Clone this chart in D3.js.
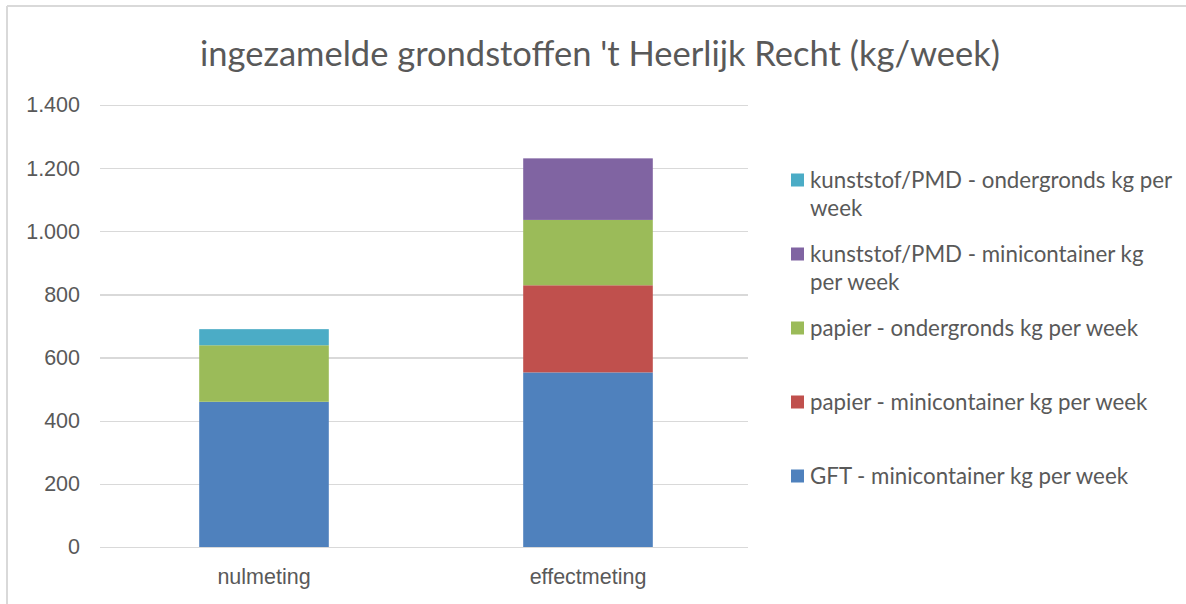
<!DOCTYPE html>
<head>
    <meta charset="utf-8">
    <style>
        body { margin: 0; background: #fff; }
        svg { display: block; font-family: Lato, 'Noto Sans', sans-serif; }
        .title { font-size: 34.5px; fill: #595959; }
        .axis text { font-size: 21.5px; fill: #595959; }
        .axis .domain { display: none; }
        .axis line { display: none; }
        .grid line { stroke: #d9d9d9; stroke-width: 1.3px; shape-rendering: crispEdges; }
        .grid .domain { display: none; }
        .legend text { font-size: 22.3px; fill: #595959; }
    </style>
</head>
<body>
    <div id="chart"></div>
    <script src="https://d3js.org/d3.v7.min.js"></script>
    <script>
        // categories and series, bottom of the stack first
        var categories = ["nulmeting", "effectmeting"];
        var seriesNames = [
            "GFT - minicontainer kg per week",
            "papier - minicontainer kg per week",
            "papier - ondergronds kg per week",
            "kunststof/PMD - minicontainer kg per week",
            "kunststof/PMD - ondergronds kg per week"
        ];
        // legend text as wrapped in the original
        var legendLines = [
            ["GFT - minicontainer kg per week"],
            ["papier - minicontainer kg per week"],
            ["papier - ondergronds kg per week"],
            ["kunststof/PMD - minicontainer kg", "per week"],
            ["kunststof/PMD - ondergronds kg per", "week"]
        ];
        var gft = [460, 553];
        var papierMini = [0, 276];
        var papierOnder = [179, 207];
        var pmdMini = [0, 195];
        var pmdOnder = [51, 0];
        var colors = ["#4f81bd", "#c0504d", "#9bbb59", "#8064a2", "#4bacc6"];
        var yTicks = [0, 200, 400, 600, 800, 1000, 1200, 1400];

        var W = 1186, H = 604;
        var margin = {top: 105, left: 100, right: 438, bottom: 57};
        var width = W - margin.left - margin.right,
            height = H - margin.top - margin.bottom;

        var svg = d3.select("#chart").append("svg")
            .attr("width", W)
            .attr("height", H);

        // chart area border (only top and left show in the picture)
        svg.append("line").attr("x1", 7).attr("x2", W).attr("y1", 6).attr("y2", 6)
            .attr("stroke", "#d9d9d9").attr("stroke-width", 2);
        svg.append("line").attr("x1", 7).attr("x2", 7).attr("y1", 6).attr("y2", H)
            .attr("stroke", "#d9d9d9").attr("stroke-width", 2);

        svg.append("text")
            .attr("class", "title")
            .attr("x", 600)
            .attr("y", 66)
            .attr("text-anchor", "middle")
            .text("ingezamelde grondstoffen 't Heerlijk Recht (kg/week)");

        var g = svg.append("g").attr("transform", "translate(" + margin.left + "," + margin.top + ")");

        var x = d3.scaleBand()
            .domain(categories)
            .range([2, width + 2])
            .paddingInner(0.6)
            .paddingOuter(0.3);

        var y = d3.scaleLinear()
            .domain([0, 1400])
            .range([height, 0]);

        g.append("g")
            .attr("class", "grid")
            .call(d3.axisLeft(y).tickValues(yTicks).tickSize(-width).tickFormat(""));

        var table = categories.map(function(c, i) {
            return {cat: c, s0: gft[i], s1: papierMini[i], s2: papierOnder[i], s3: pmdMini[i], s4: pmdOnder[i]};
        });
        var keys = ["s0", "s1", "s2", "s3", "s4"];
        var stacked = d3.stack().keys(keys)(table);

        g.append("g").selectAll("g")
            .data(stacked)
            .enter().append("g")
            .attr("fill", function(d, i) { return colors[i]; })
            .selectAll("rect")
            .data(function(d) { return d; })
            .enter().append("rect")
            .attr("x", function(d) { return x(d.data.cat); })
            .attr("y", function(d) { return y(d[1]); })
            .attr("width", x.bandwidth())
            .attr("height", function(d) { return y(d[0]) - y(d[1]); });

        var fmt = function(v) { return d3.format(",")(v).replace(/,/g, "."); };

        g.append("g")
            .attr("class", "axis")
            .call(d3.axisLeft(y).tickValues(yTicks).tickSize(0).tickPadding(20).tickFormat(fmt));

        g.append("g")
            .attr("class", "axis")
            .attr("transform", "translate(0," + height + ")")
            .call(d3.axisBottom(x).tickSize(0).tickPadding(22));

        // legend, top entry is the last series
        var legend = svg.append("g").attr("class", "legend");
        var items = legend.selectAll("g")
            .data(d3.range(seriesNames.length).reverse())
            .enter().append("g")
            .attr("transform", function(d, j) { return "translate(791," + (180 + j * 74) + ")"; });

        items.append("rect")
            .attr("x", 0).attr("y", -6.5)
            .attr("width", 13).attr("height", 13)
            .attr("fill", function(i) { return colors[i]; });

        items.append("text")
            .selectAll("tspan")
            .data(function(i) { return legendLines[i]; })
            .enter().append("tspan")
            .attr("x", 19)
            .attr("y", function(d, k) { return 8 + k * 28; })
            .text(function(d) { return d; });
    </script>
</body>
